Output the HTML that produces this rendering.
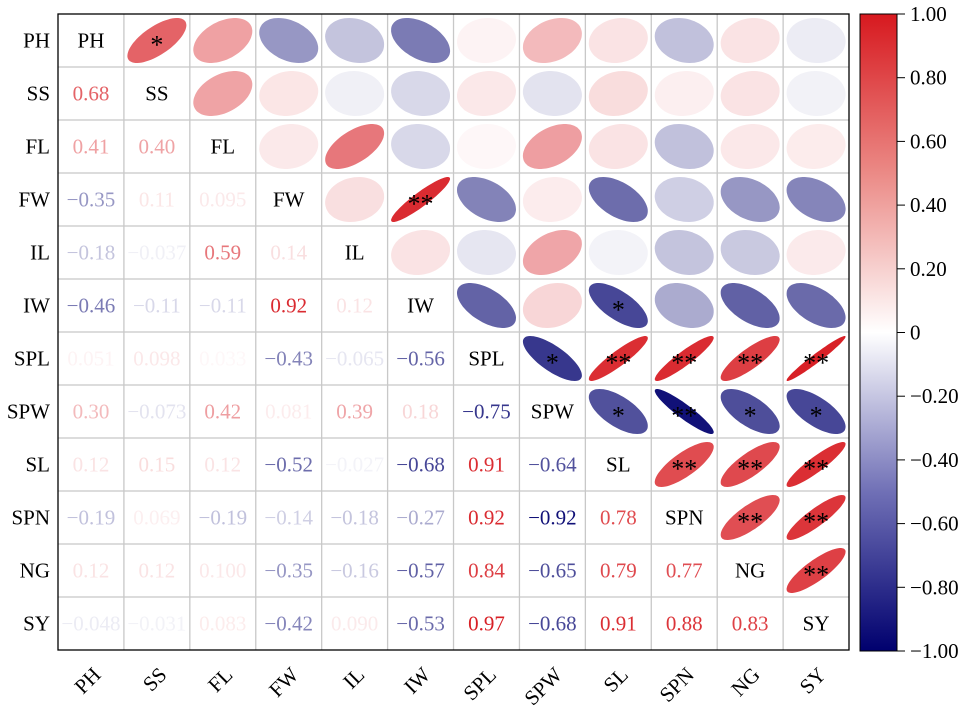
<!DOCTYPE html>
<html><head><meta charset="utf-8"><style>
html,body{margin:0;padding:0;background:#fff}
svg,svg text{font-family:"Liberation Serif","Times New Roman",Times,serif}
</style></head><body>
<svg id="s" width="971" height="707" xmlns="http://www.w3.org/2000/svg" font-family="Liberation Serif, Times New Roman, serif">
<g id="cells"></g>
<g id="grid"></g>
<g id="lower" font-size="21" text-anchor="middle"></g>
<g id="labels" font-size="21"></g>
<rect x="58" y="14" width="791" height="636" fill="none" stroke="#000" stroke-width="1.3"/>
<defs><linearGradient id="cb" x1="0" y1="1" x2="0" y2="0">
<stop offset="0" stop-color="#00006e"/><stop offset="0.25" stop-color="#7070b6"/><stop offset="0.5" stop-color="#ffffff"/><stop offset="0.75" stop-color="#eb8a86"/><stop offset="1" stop-color="#d7191f"/></linearGradient></defs>
<rect x="860" y="14" width="37" height="637" fill="url(#cb)" stroke="#000" stroke-width="1"/>
<g id="cbt" font-size="21"></g>
</svg>
<script>
var N=["PH","SS","FL","FW","IL","IW","SPL","SPW","SL","SPN","NG","SY"];
var L=[[],["0.68"],["0.41","0.40"],["−0.35","0.11","0.095"],["−0.18","−0.037","0.59","0.14"],
["−0.46","−0.11","−0.11","0.92","0.12"],["0.051","0.098","0.033","−0.43","−0.065","−0.56"],
["0.30","−0.073","0.42","0.081","0.39","0.18","−0.75"],["0.12","0.15","0.12","−0.52","−0.027","−0.68","0.91","−0.64"],
["−0.19","0.069","−0.19","−0.14","−0.18","−0.27","0.92","−0.92","0.78"],
["0.12","0.12","0.100","−0.35","−0.16","−0.57","0.84","−0.65","0.79","0.77"],
["−0.048","−0.031","0.083","−0.42","0.090","−0.53","0.97","−0.68","0.91","0.88","0.83"]];
var ST={"0,1":"*","3,5":"**","5,8":"*","6,7":"*","6,8":"**","6,9":"**","6,10":"**","6,11":"**","7,8":"*","7,9":"**","7,10":"*","7,11":"*","8,9":"**","8,10":"**","8,11":"**","9,10":"**","9,11":"**","10,11":"**"};
function col(r){var a=Math.abs(r);if(r<0){var k=Math.pow(a,0.85);return "rgb("+Math.round(255-k*255)+","+Math.round(255-k*255)+","+Math.round(255-k*145)+")";}
var k=a;return "rgb("+Math.round(255-k*40)+","+Math.round(255-k*230)+","+Math.round(255-k*224)+")";}
var x0=58,y0=14,cw=65.92,ch=53;var NS="http://www.w3.org/2000/svg";
function el(t,a,p,txt){var e=document.createElementNS(NS,t);for(var k in a)e.setAttribute(k,a[k]);if(txt!=null)e.textContent=txt;p.appendChild(e);return e;}
var cells=document.getElementById("cells"),grid=document.getElementById("grid"),lower=document.getElementById("lower"),labels=document.getElementById("labels");
for(var i=1;i<12;i++){el("line",{x1:x0+i*cw,x2:x0+i*cw,y1:y0,y2:y0+636,stroke:"#c8c8c8","stroke-width":1.3},grid);el("line",{y1:y0+i*ch,y2:y0+i*ch,x1:x0,x2:x0+791,stroke:"#c8c8c8","stroke-width":1.3},grid);}
for(var i=0;i<12;i++){var cy=y0+(i+.5)*ch;
el("text",{x:50,y:cy+7,"text-anchor":"end"},labels,N[i]);
var cx=x0+(i+.5)*cw;
el("text",{x:cx,y:cy+7,"text-anchor":"middle"},labels,N[i]);
el("text",{x:0,y:0,"text-anchor":"end",transform:"translate("+(cx+11)+",676) rotate(-45)"},labels,N[i]);
for(var j=0;j<12;j++){var cxj=x0+(j+.5)*cw;
if(j<i){var s=L[i][j];var r=parseFloat(s.replace("−","-"));el("text",{x:cxj,y:cy+7,fill:col(r)},lower,s);}
else if(j>i){var s=L[j][i];var r=parseFloat(s.replace("−","-"));var d=Math.acos(r)/2,pts=[];
for(var t=0;t<72;t++){var a=t/72*2*Math.PI;pts.push((cxj+29.5*Math.cos(a+d)).toFixed(1)+","+(cy-22.5*Math.cos(a-d)).toFixed(1));}
el("polygon",{points:pts.join(" "),fill:col(r)},cells);
var st=ST[i+","+j];if(st)el("text",{x:cxj,y:cy+13,"text-anchor":"middle","font-size":26},lower,st);}}}
var cbt=document.getElementById("cbt");
var tl=["1.00","0.80","0.60","0.40","0.20","0","−0.20","−0.40","−0.60","−0.80","−1.00"];
for(var k=0;k<11;k++){var y=14+k*63.7;el("line",{x1:897,x2:905,y1:y,y2:y,stroke:"#000"},cbt);el("text",{x:910,y:y+7},cbt,tl[k]);}
</script>
</body></html>
